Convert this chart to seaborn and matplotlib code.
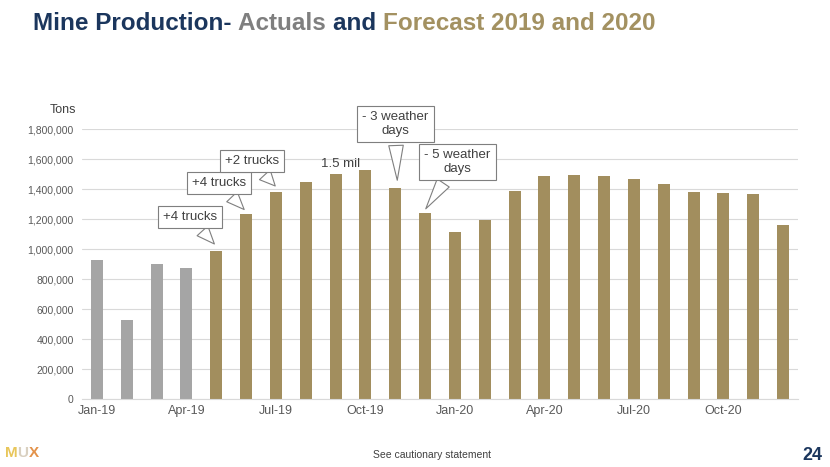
import pandas as pd
import seaborn as sns
import matplotlib.pyplot as plt
from matplotlib.ticker import FuncFormatter

months = ["Jan-19", "Feb-19", "Mar-19", "Apr-19", "May-19", "Jun-19",
          "Jul-19", "Aug-19", "Sep-19", "Oct-19", "Nov-19", "Dec-19",
          "Jan-20", "Feb-20", "Mar-20", "Apr-20", "May-20", "Jun-20",
          "Jul-20", "Aug-20", "Sep-20", "Oct-20", "Nov-20", "Dec-20"]
tons = [925000, 525000, 900000, 875000, 985000, 1235000,
        1380000, 1450000, 1500000, 1530000, 1410000, 1240000,
        1115000, 1195000, 1390000, 1485000, 1495000, 1485000,
        1470000, 1435000, 1380000, 1375000, 1365000, 1160000]
kind = ["Actual"] * 4 + ["Forecast"] * 20
tick_labels = ["Jan-19", "Apr-19", "Jul-19", "Oct-19", "Jan-20", "Apr-20", "Jul-20", "Oct-20"]

NAVY = "#1B365D"
GREY_T = "#7F7F7F"
GOLD = "#A39161"
BAR_GOLD = "#A28E5E"
BAR_GREY = "#A5A5A5"

df = pd.DataFrame({"month": months, "tons": tons, "kind": kind})

sns.set_style("white")
plt.rcParams['font.family'] = ['Liberation Sans', 'DejaVu Sans']

fig = plt.figure(figsize=(8.3, 4.67), dpi=100)
ax = fig.add_axes([0.0988, 0.1456, 0.8627, 0.578])

sns.barplot(data=df, x="month", y="tons", hue="kind", dodge=False, width=0.4,
            palette={"Actual": BAR_GREY, "Forecast": BAR_GOLD}, saturation=1,
            ax=ax, legend=False, edgecolor="none")

ax.set_ylim(0, 1800000)
ax.set_xlim(-0.5, 23.5)
ax.set_yticks(range(0, 1800001, 200000))
ax.yaxis.set_major_formatter(FuncFormatter(lambda v, p: f"{int(v):,}"))
ax.grid(axis="y", color="#D9D9D9", linewidth=0.8)
ax.set_axisbelow(True)
ax.set_xticks([months.index(m) for m in tick_labels])
ax.set_xticklabels(tick_labels)
ax.tick_params(axis="y", labelsize=7.5, labelcolor="#595959", length=0, pad=6)
ax.tick_params(axis="x", labelsize=9, labelcolor="#595959", length=0, pad=4)
ax.set_xlabel("")
ax.set_ylabel("")
for s in ["top", "right", "left"]:
    ax.spines[s].set_visible(False)
ax.spines["bottom"].set_color("#D9D9D9")
ax.text(-0.045, 1.06, "Tons", transform=ax.transAxes, fontsize=9, color="#404040", ha="left")

# callouts
box = dict(boxstyle="square,pad=0.4", fc="white", ec="#7F7F7F", lw=0.8)
arrow = dict(arrowstyle="wedge,tail_width=1.1,shrink_factor=0.5", fc="white", ec="#7F7F7F", lw=0.8)
notes = [
    ("+4 trucks", (4.0, 1020000), (3.12, 1213000)),
    ("+4 trucks", (5.0, 1250000), (4.09, 1440000)),
    ("+2 trucks", (6.04, 1407000), (5.2, 1587000)),
    ("- 3 weather\ndays", (10.07, 1440000), (10.0, 1833000)),
    ("- 5 weather\ndays", (10.97, 1253000), (12.08, 1580000)),
]
for txt, tip, pos in notes:
    ax.annotate(txt, xy=tip, xytext=pos, ha="center", va="center", fontsize=9.5,
                color="#404040", bbox=box, arrowprops=arrow, annotation_clip=False,
                linespacing=1.2)
ax.text(8.15, 1567000, "1.5 mil", ha="center", va="center", fontsize=9.5, color="#404040")

# multi-coloured title
parts = [("Mine Production- ", NAVY), ("Actuals ", GREY_T), ("and ", NAVY), ("Forecast 2019 and 2020", GOLD)]
fig.canvas.draw()
r = fig.canvas.get_renderer()
x = 33 / 830
for s, c in parts:
    t = fig.text(x, 1 - 24 / 467, s, color=c, fontsize=17.5, fontweight="bold",
                 va="center", ha="left",
                 family=['Liberation Sans Narrow', 'Liberation Sans', 'DejaVu Sans'])
    bb = t.get_window_extent(renderer=r)
    x += bb.width / fig.bbox.width

# footer
fig.text(432 / 830, 1 - 455 / 467, "See cautionary statement", ha="center", va="center",
         fontsize=7.5, color="#404040")
fig.text(812 / 830, 1 - 455 / 467, "24", ha="center", va="center", fontsize=13,
         fontweight="bold", color=NAVY)
x = 5 / 830
for ch, c in [("M", "#E8C65A"), ("U", "#D9D0C0"), ("X", "#E3924A")]:
    t = fig.text(x, 1 - 453 / 467, ch, ha="left", va="center", fontsize=11,
                 fontweight="bold", color=c)
    x += t.get_window_extent(renderer=r).width / fig.bbox.width

fig.savefig("out.png", dpi=100)
